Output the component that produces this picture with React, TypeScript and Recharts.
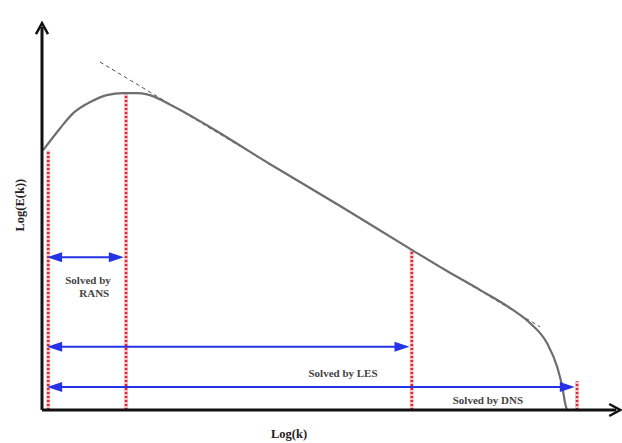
import React from "react";
import {
  ComposedChart,
  Line,
  XAxis,
  YAxis,
  ReferenceLine,
  ReferenceDot,
} from "recharts";

// energy spectrum curve, log(k) vs log(E(k)) (0..100 units)
const logK = [0.2, 3.2, 5.5, 8.5, 11.4, 14.3, 16.7, 18.5, 23.1, 29.1, 40.1, 52.5, 65.1, 71.3, 77.1, 82.9, 85.9, 88.9, 90.7, 91.6, 92.1, 92.4];
const logE = [67.5, 73.2, 77.1, 80.0, 81.8, 82.3, 82.3, 82.0, 78.9, 73.9, 63.9, 53.0, 41.6, 36.1, 31.2, 26.0, 22.6, 17.4, 11.2, 6.0, 1.8, 0];

// -5/3 slope guide
const slopeK = [10.2, 87.7];
const slopeE = [90.4, 21.6];

// resolved scale boundaries (red dotted) and their heights
const cutoffK = [1.1, 14.8, 65.1, 94.2];
const cutoffTop = [67.5, 82.3, 41.6, 7.5];

// arrows: which cutoff they run to, and their level
const arrowNames = ["RANS", "LES", "DNS"];
const arrowEnd = [1, 2, 3];
const arrowLevel = [39.7, 16.4, 6.0];

const labelText = ["Solved by", "RANS", "Solved by LES", "Solved by DNS"];
const labelK = [8.1, 9.2, 53.0, 78.5];
const labelE = [33.8, 30.4, 9.6, 2.6];

const curve = logK.map((k, i) => ({ k, e: logE[i] }));
const slope = slopeK.map((k, i) => ({ k, e: slopeE[i] }));

const RED = "#e3262d";
const BLUE = "#2433e6";
const TEXT = "#444";
const SERIF = "'Liberation Serif', 'Times New Roman', serif";

function arrowHead(x: number, y: number, dx: number, dy: number, len: number, half: number, fill: string, key: string) {
  const n = Math.hypot(dx, dy) || 1;
  const ux = dx / n;
  const uy = dy / n;
  const bx = x - ux * len;
  const by = y - uy * len;
  const pts = `${x},${y} ${bx - uy * half},${by + ux * half} ${bx + uy * half},${by - ux * half}`;
  return <polygon key={key} points={pts} fill={fill} />;
}

const blueArrow = (p: any) => {
  const { x1, y1, x2, y2 } = p;
  return (
    <g>
      <line x1={x1 + 10} y1={y1} x2={x2 - 10} y2={y2} stroke={BLUE} strokeWidth={2} />
      {arrowHead(x1, y1, x1 - x2, y1 - y2, 15, 5, BLUE, "a")}
      {arrowHead(x2, y2, x2 - x1, y2 - y1, 15, 5, BLUE, "b")}
    </g>
  );
};

const axisArrow = (p: any) => {
  const { x1, y1, x2, y2 } = p;
  const n = Math.hypot(x2 - x1, y2 - y1) || 1;
  const ux = (x2 - x1) / n;
  const uy = (y2 - y1) / n;
  return (
    <g>
      <line x1={x1} y1={y1} x2={x2 - ux * 4} y2={y2 - uy * 4} stroke="#111" strokeWidth={3} />
      <polyline
        points={`${x2 - ux * 11 - uy * 6},${y2 - uy * 11 + ux * 6} ${x2},${y2} ${x2 - ux * 11 + uy * 6},${y2 - uy * 11 - ux * 6}`}
        fill="none"
        stroke="#111"
        strokeWidth={2.5}
      />
    </g>
  );
};

const textStyle = { fill: TEXT, fontSize: 11, fontFamily: SERIF, fontWeight: "bold" };

export default function App() {
  return (
    <div style={{ position: "absolute", left: 0, top: 0, background: "#fff", fontFamily: SERIF }}>
      <ComposedChart width={622} height={443} margin={{ top: 25, right: 12, bottom: 33, left: 42 }}>
        <XAxis type="number" dataKey="k" domain={[0, 100]} hide allowDataOverflow />
        <YAxis type="number" domain={[0, 100]} hide allowDataOverflow />

        {cutoffK.map((k, i) => (
          <ReferenceLine
            key={`halo-${i}`}
            segment={[{ x: k, y: 0 }, { x: k, y: cutoffTop[i] }]}
            stroke="#f3c4c6"
            strokeWidth={4}
            ifOverflow="visible"
          />
        ))}
        {cutoffK.map((k, i) => (
          <ReferenceLine
            key={`cut-${i}`}
            segment={[{ x: k, y: 0 }, { x: k, y: cutoffTop[i] }]}
            stroke={RED}
            strokeWidth={2.5}
            strokeDasharray="2 2"
            ifOverflow="visible"
          />
        ))}

        <Line
          data={slope}
          dataKey="e"
          type="linear"
          stroke="#555"
          strokeWidth={1}
          strokeDasharray="4 3"
          dot={false}
          isAnimationActive={false}
        />
        <Line
          data={curve}
          dataKey="e"
          type="monotone"
          stroke="#6e6e6e"
          strokeWidth={2.2}
          dot={false}
          isAnimationActive={false}
        />

        {arrowNames.map((name, i) => (
          <ReferenceLine
            key={`arr-${name}`}
            segment={[
              { x: cutoffK[0] - 0.2, y: arrowLevel[i] },
              { x: cutoffK[arrowEnd[i]] - 0.4, y: arrowLevel[i] },
            ]}
            ifOverflow="visible"
            shape={blueArrow}
          />
        ))}

        <ReferenceLine segment={[{ x: 0, y: 0 }, { x: 0, y: 100.5 }]} ifOverflow="visible" shape={axisArrow} />
        <ReferenceLine segment={[{ x: 0, y: 0 }, { x: 101.8, y: 0 }]} ifOverflow="visible" shape={axisArrow} />

        {labelText.map((t, i) => (
          <ReferenceDot
            key={`lbl-${i}`}
            x={labelK[i]}
            y={labelE[i]}
            r={0}
            ifOverflow="visible"
            label={{ value: t, position: "center", ...textStyle }}
          />
        ))}
        <ReferenceDot
          x={43.5}
          y={-6}
          r={0}
          ifOverflow="visible"
          label={{ value: "Log(k)", position: "center", ...textStyle, fill: "#222", fontSize: 12.5 }}
        />
        <ReferenceDot
          x={-3.9}
          y={53.2}
          r={0}
          ifOverflow="visible"
          label={{ value: "Log(E(k))", position: "center", angle: -90, ...textStyle, fill: "#222", fontSize: 12.5 }}
        />
      </ComposedChart>
    </div>
  );
}
